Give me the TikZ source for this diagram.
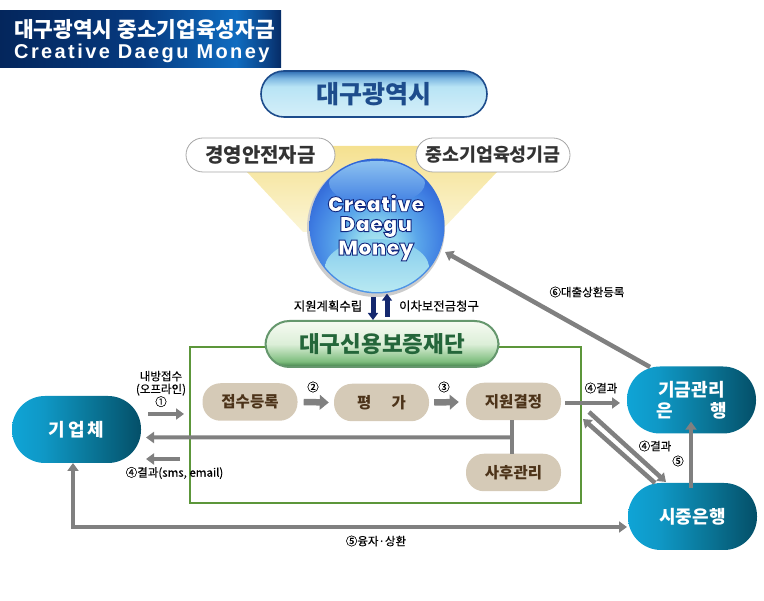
\documentclass[tikz,border=0pt]{standalone}
\usepackage{fontspec}
\setmainfont{Noto Sans CJK KR}
\newfontfamily\notefont[FakeBold=0.25]{Noto Sans CJK KR}
\newfontfamily\latinbold[UprightFont=* Black]{Poppins}
\newfontfamily\latinwide[LetterSpace=12]{Liberation Sans Bold}
\usetikzlibrary{arrows.meta,calc,shadings,fadings}

\definecolor{arrowgray}{HTML}{808080}
\definecolor{boxgreen}{HTML}{5C963A}
\definecolor{pilltan}{HTML}{D5CAB7}
\definecolor{navy}{HTML}{14286E}
\definecolor{cityink}{HTML}{1D4C8C}
\definecolor{fundink}{HTML}{24663A}
\definecolor{banA}{HTML}{04265C}
\definecolor{banB}{HTML}{063A80}
\definecolor{banC}{HTML}{0F6CC0}
\definecolor{banD}{HTML}{0A3F82}
\definecolor{banE}{HTML}{062C66}
\definecolor{tealA}{HTML}{0FA4D6}
\definecolor{tealB}{HTML}{0F98C6}
\definecolor{tealC}{HTML}{0A7799}
\definecolor{tealD}{HTML}{044F68}
\definecolor{skyA}{HTML}{D5EFF9}
\definecolor{skyB}{HTML}{B8E4F5}
\definecolor{skyC}{HTML}{7FB8E2}
\definecolor{skyD}{HTML}{2F6FB5}
\definecolor{leafA}{HTML}{3F7D48}
\definecolor{leafB}{HTML}{7DBD7D}
\definecolor{leafC}{HTML}{DCEFD8}
\definecolor{leafD}{HTML}{F6FAF2}
\definecolor{ballA}{HTML}{BDEBF2}
\definecolor{ballB}{HTML}{8FD6EE}
\definecolor{ballC}{HTML}{5AA6EA}
\definecolor{ballD}{HTML}{3F7EE2}
\definecolor{ballE}{HTML}{2653CC}
\definecolor{glowA}{HTML}{FBF5D6}
\definecolor{glowB}{HTML}{F5E190}

% Path boxes fill the central 25bp--75bp of each shading square
\pgfdeclarehorizontalshading{bannershade}{100bp}{
  color(0bp)=(banA); color(25bp)=(banA); color(50bp)=(banB);
  color(67bp)=(banC); color(73bp)=(banD); color(75bp)=(banE); color(100bp)=(banE)}
\pgfdeclarehorizontalshading{tealshade}{100bp}{
  color(0bp)=(tealA); color(25bp)=(tealA); color(37bp)=(tealB);
  color(55bp)=(tealC); color(75bp)=(tealD); color(100bp)=(tealD)}
\pgfdeclareverticalshading{skyshade}{100bp}{
  color(0bp)=(skyA); color(25bp)=(skyA); color(58bp)=(skyB);
  color(67bp)=(skyC); color(75bp)=(skyD); color(100bp)=(skyD)}
\pgfdeclareverticalshading{leafshade}{100bp}{
  color(0bp)=(leafA); color(25bp)=(leafA); color(31bp)=(leafB);
  color(50bp)=(leafC); color(75bp)=(leafD); color(100bp)=(leafD)}
\pgfdeclareradialshading{ballshade}{\pgfpoint{0bp}{-10bp}}{
  color(0bp)=(ballA); color(8bp)=(ballB);
  color(15bp)=(ballC); color(24bp)=(ballD);
  color(33bp)=(ballE); color(50bp)=(ballE)}
\pgfdeclareverticalshading{glowshade}{100bp}{
  color(0bp)=(glowA); color(25bp)=(glowA); color(75bp)=(glowB); color(100bp)=(glowB)}
\pgfdeclareverticalshading{glossshade}{100bp}{
  color(0bp)=(ballD); color(25bp)=(ballD); color(75bp)=(ballC!70!white); color(100bp)=(ballC!70!white)}
\pgfdeclareverticalshading{lowglowshade}{100bp}{
  color(0bp)=(ballA); color(25bp)=(ballA); color(75bp)=(ballB!80!ballC); color(100bp)=(ballB!80!ballC)}

\newcommand{\ballword}[1]{\special{pdf:code 2 Tr 0.9 w 0.07 0.16 0.50 RG}#1\special{pdf:code 0 Tr 0 0 0 RG}}

\tikzset{
  pill/.style={rounded corners=#1, inner sep=0pt, align=center},
  tanpill/.style={pill=18pt, fill=pilltan, minimum width=95pt, minimum height=37.5pt,
    text=brown!40!black, font=\fontsize{15.5}{17}\selectfont\bfseries},
  tealpill/.style={pill=33pt, shading=tealshade, minimum width=129pt, minimum height=67pt,
    text=white, font=\fontsize{18}{21}\selectfont\bfseries},
  whitepill/.style={pill=17pt, draw=gray!70, line width=.8pt, fill=white, minimum height=34pt,
    text=black!80},
  note/.style={inner sep=0pt, text=black, font=\fontsize{11.5}{13}\selectfont\notefont, align=center},
  flow/.style={draw=arrowgray, line width=4.5pt,
    -{Triangle[length=8pt,width=11pt]}},
  bigflow/.style={draw=arrowgray, line width=6.5pt,
    -{Triangle[length=9pt,width=14.5pt]}},
  bar/.style={draw=arrowgray, line width=4pt},
  updown/.style={draw=navy, line width=5pt, -{Triangle[length=7pt,width=10pt]}},
  ballword/.style={inner sep=0pt, text=white, font=\fontsize{21.2}{21.2}\selectfont\latinbold},
}

\begin{document}
\begin{tikzpicture}[x=1pt,y=-1pt]
\useasboundingbox (0,0) rectangle (764,601);

% title banner
\node[shading=bannershade, minimum width=281pt, minimum height=57pt, inner sep=0pt] (banner) at (140.5,39.5) {};
\node[text=white, inner sep=0pt, anchor=west] (titlekr) at (14,30)
  {\fontsize{21.4}{24}\selectfont\bfseries 대구광역시 중소기업육성자금};
\node[text=white, inner sep=0pt, anchor=west] (titleen) at (14,53)
  {\fontsize{20}{24}\selectfont\latinwide Creative Daegu Money};

% city authority
\node[pill=23pt, draw=cityink, line width=1.6pt, shading=skyshade, minimum width=226pt, minimum height=46pt,
  text=cityink, font=\fontsize{25}{28}\selectfont\bfseries] (city) at (374,94) {대구광역시};

% fund glow behind the sphere
\path[shading=glowshade] (247,172) -- (320,146) -- (430,146) -- (497,172) -- (440,232) -- (303,232) -- cycle;

% fund sources
\node[whitepill, minimum width=149pt, font=\fontsize{20}{20}\selectfont\bfseries] (safe) at (260.5,155) {경영안전자금};
\node[whitepill, minimum width=154pt, font=\fontsize{18.4}{20}\selectfont\bfseries] (sme) at (493,155) {중소기업육성기금};

% money sphere with its gloss and lower glow
\fill[gray!40] (376,228) circle (69pt);
\shade[shading=ballshade] (377,226) circle (67.5pt);
\begin{scope}
  \clip (377,226) circle (66pt);
  \shade[shading=lowglowshade] (377,268) ellipse (52pt and 29pt);
  \shade[shading=glossshade] (377,183) ellipse (48pt and 22pt);
\end{scope}
\node[circle, minimum size=135pt, inner sep=0pt] (ball) at (377,226) {};
\node[ballword] (ballA) at (376,203) {\ballword{Creative}};
\node[ballword] (ballB) at (376,227) {\ballword{Daegu}};
\node[ballword] (ballC) at (376,250.5) {\ballword{Money}};

% guarantee foundation frame and header
\node[draw=boxgreen, line width=2pt, minimum width=391pt, minimum height=156pt, inner sep=0pt] (frame) at (385.5,425) {};
\node[pill=24pt, draw=leafA!80, line width=2pt, shading=leafshade, minimum width=233pt, minimum height=46pt,
  text=fundink, font=\fontsize{22.5}{26}\selectfont\bfseries] (fund) at (382,344) {대구신용보증재단};

% process steps
\node[tanpill] (reg)    at (250,402)   {접수등록};
\node[tanpill] (eval)   at (381.5,402.5) {평\hspace{1.3em}가};
\node[tanpill] (decide) at (513.5,401.5) {지원결정};
\node[tanpill] (care)   at (513.5,472.5) {사후관리};

% participants
\node[tealpill] (firm)  at (76.5,429.5) {기\,업\,체};
\node[tealpill] (mgr)   at (691.5,400)  {기금관리\\은\hspace{2.1em}행};
\node[tealpill] (bank)  at (692.5,516.5) {시중은행};

% sphere and foundation exchange
\coordinate (dnA) at (373,297);
\coordinate (upA) at (387,317);
\draw[updown] (dnA) -- (dnA |- fund.north);
\draw[updown] (upA) -- (upA |- ball.south);

% process flow
\draw[bigflow] ([xshift=6pt]reg.east) -- ([xshift=-5pt]eval.west);
\draw[bigflow] ([xshift=5pt]eval.east) -- ([xshift=-7pt,yshift=-.5pt]decide.west);
\draw[bar] ($(decide.south)+(-1.5,0)$) -- ($(care.north)+(-1.5,0)$);

% results returned and applications
\coordinate (junction) at ($(decide.south)+(-1.5,17)$);
\coordinate (backTip) at (146,437.5);
\draw[flow, line width=4pt] (junction) -- (backTip);
\coordinate (inStart) at (148,414);
\coordinate (inEnd) at (184,414);
\draw[flow] (inStart) -- (inEnd);
\coordinate (smsStart) at (180,459);
\coordinate (smsEnd) at (146,459);
\draw[flow] (smsStart) -- (smsEnd);

% decisions to the banks
\coordinate (resultStart) at (565,403);
\coordinate (resultEnd) at (620,403);
\draw[flow] (resultStart) -- (resultEnd);
\coordinate (downStart) at (589,412);
\coordinate (downEnd) at (666,482);
\coordinate (backStart) at (655,483);
\coordinate (backEnd) at (583,419);
\draw[flow] (downStart) -- (downEnd);
\draw[flow] (backStart) -- (backEnd);
\draw[flow, line width=4pt] ([xshift=-1.5pt,yshift=-5pt]bank.north) -- ([xshift=-.5pt,yshift=12pt]mgr.south);
\coordinate (loanCorner) at (73,527);
\coordinate (loanTop) at (73,463);
\coordinate (loanEnd) at (627,527);
\draw[draw=arrowgray, line width=4pt, {Triangle[length=8pt,width=11pt]}-{Triangle[length=8pt,width=11pt]}]
  (loanTop) -- (loanCorner) -- (loanEnd);
\coordinate (repayStart) at (650,367);
\coordinate (repayEnd) at (445,252);
\draw[flow] (repayStart) -- (repayEnd);

% labels
\node[note, font=\fontsize{12.4}{14}\selectfont\notefont] (planlbl) at (328,306) {지원계획수립};
\node[note, font=\fontsize{12.4}{14}\selectfont\notefont] (claimlbl) at (439,306) {이차보전금청구};
\node[note] (repaylbl) at (587,292) {⑥대출상환등록};
\node[note, font=\fontsize{11.5}{12.8}\selectfont\notefont] (visitlbl) at (161,389) {내방접수\\(오프라인)\\①};
\node[note] (smslbl) at (174.5,473) {④결과(sms, email)};
\node[note] (mgrlbl) at (601,388) {④결과};
\node[note] (banklbl) at (655,446) {④결과};
\node[note] (n5lbl) at (678,461) {⑤};
\node[note] (n2lbl) at (313,387) {②};
\node[note] (n3lbl) at (444,387) {③};
\node[note] (loanlbl) at (376,541) {⑤융자·상환};
\end{tikzpicture}
\end{document}
